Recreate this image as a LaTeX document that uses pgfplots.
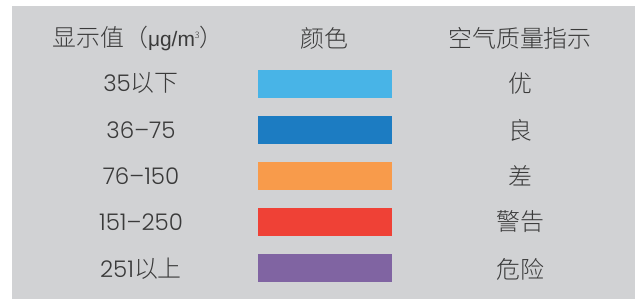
\documentclass[border=0pt]{standalone}
\usepackage{pgfplots}
\pgfplotsset{compat=1.18}
\usepackage{fontspec}
\setmainfont{Noto Sans CJK SC}[UprightFont=* Light]
\newfontfamily\numfont{Poppins}[UprightFont=* Light]
\newfontfamily\latfont{Liberation Sans}
\definecolor{bg}{HTML}{D1D2D4}
\definecolor{c1}{HTML}{48B4E7}
\definecolor{c2}{HTML}{1C7CC2}
\definecolor{c3}{HTML}{F89B4B}
\definecolor{c4}{HTML}{EF4136}
\definecolor{c5}{HTML}{8064A2}
\definecolor{txt}{HTML}{3A3A3A}
\newcommand\tf{\fontsize{24}{28}\selectfont}
\newcommand\nf{\numfont\fontsize{23}{28}\selectfont}
\begin{document}
\begin{tikzpicture}[x=1bp,y=1bp]
\begin{axis}[
  scale only axis, width=635bp, height=299bp,
  xmin=0, xmax=635, ymin=0, ymax=299, y dir=reverse,
  hide axis, clip=false,
]
\fill[white] (axis cs:0,0) rectangle (axis cs:635,299);
\fill[bg] (axis cs:12,6) rectangle (axis cs:635,299);
% colour swatches: x from 258 to 392, rows top/bottom
\addplot[fill=c1, draw=none] coordinates {(258,70) (392,70) (392,98) (258,98)} --cycle;
\addplot[fill=c2, draw=none] coordinates {(258,116) (392,116) (392,144) (258,144)} --cycle;
\addplot[fill=c3, draw=none] coordinates {(258,162) (392,162) (392,190) (258,190)} --cycle;
\addplot[fill=c4, draw=none] coordinates {(258,208) (392,208) (392,236) (258,236)} --cycle;
\addplot[fill=c5, draw=none] coordinates {(258,254) (392,254) (392,282) (258,282)} --cycle;
% header
\node[text=txt, font=\tf, inner sep=0pt] at (axis cs:138,38) {显示值（{\latfont\fontsize{21}{24}\selectfont μg/m}\raisebox{0.6ex}{\fontsize{9}{9}\selectfont 3}）};
\node[text=txt, font=\tf, inner sep=0pt] at (axis cs:324,38) {颜色};
\node[text=txt, font=\tf, inner sep=0pt] at (axis cs:520,38) {空气质量指示};
% rows
\node[text=txt, font=\tf, inner sep=0pt] at (axis cs:141,83) {{\nf 35}以下};
\node[text=txt, font=\tf, inner sep=0pt] at (axis cs:141,130) {\nf 36–75};
\node[text=txt, font=\tf, inner sep=0pt] at (axis cs:141,176) {\nf 76–150};
\node[text=txt, font=\tf, inner sep=0pt] at (axis cs:141,222) {\nf 151–250};
\node[text=txt, font=\tf, inner sep=0pt] at (axis cs:141,269) {{\nf 251}以上};
\node[text=txt, font=\tf, inner sep=0pt] at (axis cs:520,83) {优};
\node[text=txt, font=\tf, inner sep=0pt] at (axis cs:520,130) {良};
\node[text=txt, font=\tf, inner sep=0pt] at (axis cs:520,176) {差};
\node[text=txt, font=\tf, inner sep=0pt] at (axis cs:520,222) {警告};
\node[text=txt, font=\tf, inner sep=0pt] at (axis cs:520,269) {危险};
\end{axis}
\end{tikzpicture}
\end{document}
